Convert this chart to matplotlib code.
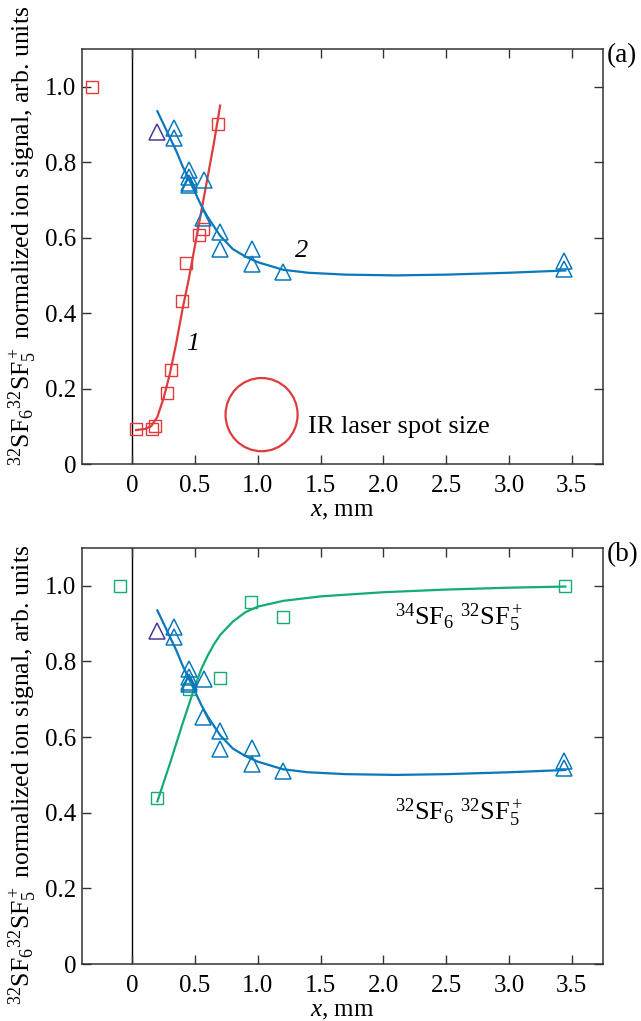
import matplotlib
matplotlib.use("Agg")
import matplotlib.pyplot as plt
from matplotlib.patches import Ellipse
from matplotlib.ticker import FuncFormatter

# ---- data ----
# panel (a), curve 1: 32SF6 dip signal (red squares)
red_x = [-0.32, 0.03, 0.16, 0.18, 0.28, 0.31, 0.40, 0.43, 0.53, 0.56, 0.68]
red_y = [1.00, 0.093, 0.093, 0.10, 0.188, 0.249, 0.431, 0.534, 0.608, 0.622, 0.902]
red_fit_x = [0.03, 0.10, 0.15, 0.20, 0.25, 0.30, 0.35, 0.40, 0.45, 0.50, 0.55, 0.60, 0.65, 0.70]
red_fit_y = [0.09, 0.093, 0.10, 0.125, 0.175, 0.24, 0.32, 0.41, 0.49, 0.58, 0.67, 0.76, 0.85, 0.95]

# curve 2: 32SF6 32SF5+ (blue triangles), first point purple
purple_x = [0.20]
purple_y = [0.88]
blue_x = [0.33, 0.33, 0.45, 0.45, 0.45, 0.45, 0.57, 0.565, 0.70, 0.70, 0.95, 0.95, 1.20, 3.44, 3.44]
blue_y = [0.89, 0.865, 0.78, 0.76, 0.745, 0.74, 0.754, 0.653, 0.616, 0.569, 0.57, 0.53, 0.51, 0.538, 0.517]
blue_fit_x = [0.20, 0.25, 0.30, 0.35, 0.40, 0.45, 0.50, 0.55, 0.60, 0.65, 0.70, 0.80, 0.90, 1.00,
              1.20, 1.40, 1.70, 2.10, 2.50, 3.00, 3.45]
blue_fit_y = [0.935, 0.90, 0.865, 0.83, 0.79, 0.755, 0.72, 0.685, 0.655, 0.63, 0.605, 0.57, 0.55,
              0.535, 0.515, 0.507, 0.502, 0.50, 0.502, 0.507, 0.513]

# panel (b): 34SF6 32SF5+ (green squares)
green_x = [-0.095, 0.20, 0.45, 0.70, 0.945, 1.20, 3.45]
green_y = [1.00, 0.44, 0.726, 0.757, 0.958, 0.918, 1.00]
green_fit_x = [0.20, 0.30, 0.40, 0.50, 0.55, 0.60, 0.65, 0.70, 0.80, 0.90, 1.00, 1.20, 1.50,
               2.00, 2.50, 3.00, 3.45]
green_fit_y = [0.43, 0.53, 0.635, 0.735, 0.78, 0.815, 0.845, 0.87, 0.905, 0.93, 0.945, 0.96,
               0.972, 0.983, 0.99, 0.995, 0.998]

x_ticks = [0, 0.5, 1.0, 1.5, 2.0, 2.5, 3.0, 3.5]
y_ticks = [0, 0.2, 0.4, 0.6, 0.8, 1.0]

# ---- style ----
RED = "#e03b3d"
BLUE = "#0a78bc"
PURPLE = "#46399b"
GREEN = "#14ad6f"
SPINE = "#333333"
FS = 18
FS_NOTE = 19

plt.rcParams["font.family"] = ["Liberation Serif", "DejaVu Serif"]
plt.rcParams["mathtext.fontset"] = "custom"
plt.rcParams["mathtext.rm"] = "Liberation Serif"
plt.rcParams["mathtext.it"] = "Liberation Serif:italic"

ylabel = r"$^{32}$SF$_6$$^{32}$SF$_5^+$ normalized ion signal, arb. units"


def fmt(v, pos):
    return "0" if abs(v) < 1e-9 else f"{v:.1f}"


def setup_axes(ax, tag, label_y):
    ax.set_xlim(-0.4, 3.75)
    ax.set_ylim(0, 1.1)
    ax.set_xticks(x_ticks)
    ax.set_yticks(y_ticks)
    ax.xaxis.set_major_formatter(FuncFormatter(fmt))
    ax.yaxis.set_major_formatter(FuncFormatter(fmt))
    ax.tick_params(direction="in", length=6.5, width=1.0, color=SPINE,
                   top=True, right=True, labelsize=FS)
    ax.tick_params(axis="x", pad=8)
    ax.tick_params(axis="y", pad=4)
    for s in ax.spines.values():
        s.set_color(SPINE)
        s.set_linewidth(1.1)
    ax.axvline(0, color="black", linewidth=1.0, zorder=1)
    ax.set_xlabel(r"$x$, mm", fontsize=FS, labelpad=2)
    ax.set_ylabel(ylabel, fontsize=18.5)
    ax.yaxis.set_label_coords(-0.083, label_y)
    ax.text(1.008, 0.985, tag, transform=ax.transAxes, fontsize=19.5,
            ha="left", va="center")


def plot_blue(ax):
    ax.plot(blue_x, blue_y, linestyle="none", marker="^", markersize=11,
            markerfacecolor="none", markeredgecolor=BLUE, markeredgewidth=1.1, zorder=3)
    ax.plot(purple_x, purple_y, linestyle="none", marker="^", markersize=11,
            markerfacecolor="none", markeredgecolor=PURPLE, markeredgewidth=1.1, zorder=3)
    ax.plot(blue_fit_x, blue_fit_y, color=BLUE, linewidth=1.6, zorder=2)


fig = plt.figure(figsize=(6.41, 10.21), dpi=100)
ax_a = fig.add_axes([0.128, 0.5455, 0.8128, 0.4065])
ax_b = fig.add_axes([0.128, 0.0558, 0.8128, 0.4075])

# panel (a)
setup_axes(ax_a, "(a)", 0.55)
ax_a.plot(red_fit_x, red_fit_y, color=RED, linewidth=1.6, zorder=2)
ax_a.plot(red_x, red_y, linestyle="none", marker="s", markersize=8,
          markerfacecolor="none", markeredgecolor=RED, markeredgewidth=1.0, zorder=3)
plot_blue(ax_a)
ax_a.add_patch(Ellipse((1.03, 0.131), 0.574, 0.194, fill=False,
                       edgecolor=RED, linewidth=1.6))
ax_a.text(1.40, 0.098, "IR laser spot size", fontsize=FS_NOTE, ha="left", va="center")
ax_a.text(0.485, 0.317, "1", fontsize=FS_NOTE, style="italic", ha="center", va="center")
ax_a.text(1.35, 0.564, "2", fontsize=FS_NOTE, style="italic", ha="center", va="center")

# panel (b)
setup_axes(ax_b, "(b)", 0.455)
ax_b.plot(green_fit_x, green_fit_y, color=GREEN, linewidth=1.6, zorder=2)
ax_b.plot(green_x, green_y, linestyle="none", marker="s", markersize=8,
          markerfacecolor="none", markeredgecolor=GREEN, markeredgewidth=1.0, zorder=3)
plot_blue(ax_b)
ax_b.text(2.60, 0.916, r"$^{34}$SF$_6$ $^{32}$SF$_5^+$", fontsize=FS_NOTE, ha="center", va="center")
ax_b.text(2.60, 0.40, r"$^{32}$SF$_6$ $^{32}$SF$_5^+$", fontsize=FS_NOTE, ha="center", va="center")

fig.savefig("out.png", dpi=100)
